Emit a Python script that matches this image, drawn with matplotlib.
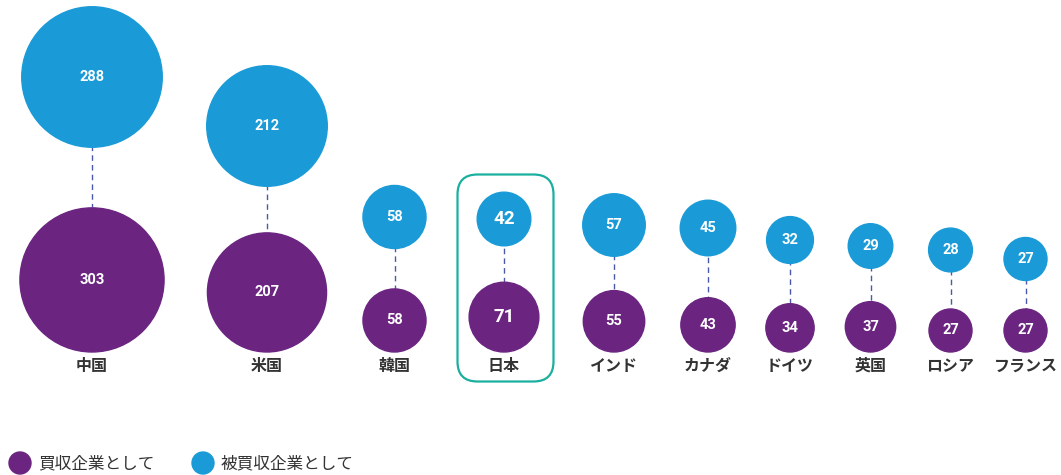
import matplotlib
matplotlib.use("Agg")
import numpy as np
import matplotlib.pyplot as plt
from matplotlib.patches import Circle, FancyBboxPatch

# data
countries = ["中国", "米国", "韓国", "日本", "インド", "カナダ", "ドイツ", "英国", "ロシア", "フランス"]
acquirer = [303, 207, 58, 71, 55, 43, 34, 37, 27, 27]   # 買収企業として
target = [288, 212, 58, 42, 57, 45, 32, 29, 28, 27]     # 被買収企業として
legend_labels = ["買収企業として", "被買収企業として"]

# layout (pixel units)
x_pos = [92, 267, 394.5, 504, 614, 708, 790, 870.5, 950.5, 1025.5]
target_y = [77, 126, 217, 219, 225, 228, 240, 246, 250, 259]
base_y = 352
k = 4.14  # radius per sqrt(value)
highlight = "日本"

purple = "#6b2581"
blue = "#1a9bd7"
teal = "#1aaf9e"
dash = "#4a5aa8"
jp = ["Noto Sans CJK JP", "DejaVu Sans"]
num_font = ["Roboto", "DejaVu Sans"]

fig = plt.figure(figsize=(10.61, 4.75), dpi=100)
ax = fig.add_axes([0, 0, 1, 1])
ax.set_xlim(0, 1061)
ax.set_ylim(475, 0)
ax.axis("off")

for name, x, a, t, ty in zip(countries, x_pos, acquirer, target, target_y):
    ra = k * np.sqrt(a)
    rt = k * np.sqrt(t)
    ay = base_y - ra
    big = name == highlight
    ax.plot([x, x], [ty, ay], color=dash, lw=1, ls=(0, (4, 3)), zorder=1)
    ax.add_patch(Circle((x, ty), rt, color=blue, zorder=2))
    ax.add_patch(Circle((x, ay), ra, color=purple, zorder=2))
    fs = 13.5 if big else 10.5
    ax.text(x, ty, str(t), color="white", fontsize=fs, fontweight="bold",
            ha="center", va="center", family=num_font, zorder=3)
    ax.text(x, ay, str(a), color="white", fontsize=fs, fontweight="bold",
            ha="center", va="center", family=num_font, zorder=3)
    ax.text(x, 366, name, color="#333333", fontsize=11.5, fontweight="bold",
            ha="center", va="center", family=jp, zorder=3)
    if big:
        ax.add_patch(FancyBboxPatch((457.5, 174.5), 96, 207,
                                    boxstyle="round,pad=0,rounding_size=20",
                                    fill=False, ec=teal, lw=1.6, zorder=1))

# legend
for lx, col, lab in [(20, purple, legend_labels[0]), (203, blue, legend_labels[1])]:
    ax.add_patch(Circle((lx, 463), 11, color=col))
    ax.text(lx + 18, 464, lab, fontsize=12, color="#333333",
            ha="left", va="center", family=jp)

fig.savefig("out.png", dpi=100)
